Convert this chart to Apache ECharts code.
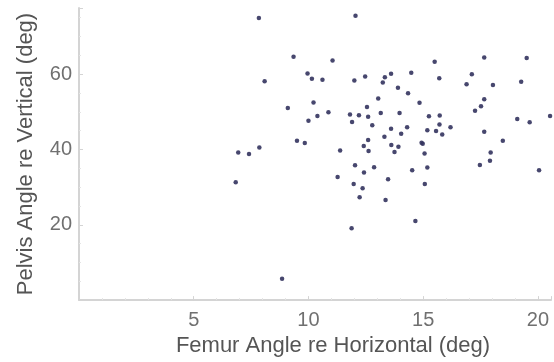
<!DOCTYPE html>
<html>
<head>
<meta charset="utf-8">
<script src="https://cdn.jsdelivr.net/npm/echarts@6/dist/echarts.min.js"></script>
<style>
  html, body { margin: 0; padding: 0; background: #fff; }
  #chart { width: 554px; height: 362px; }
</style>
</head>
<body>
<div id="chart"></div>
<script>
// femur angle (x) / pelvis angle (y)
var femur = [
  7.84, 8.09, 6.94, 7.41, 7.86, 6.83,
  12.05, 9.35, 11.05, 15.50, 17.66, 19.51, 9.96, 10.15, 10.61, 12.00,
  12.47, 13.33, 13.24, 13.60, 14.48, 15.70, 17.12, 16.89, 18.04, 19.27,
  13.90, 14.34, 13.04, 14.84, 10.22, 9.10, 12.55, 17.66, 17.52, 17.26,
  10.87, 10.39, 10.00, 11.81, 12.20, 12.60, 11.90, 13.15, 13.97, 15.25,
  15.72, 15.71, 16.19, 12.78, 13.60, 14.30, 14.04, 15.18, 15.56, 15.83,
  19.10, 19.64, 20.53, 17.66, 13.31, 12.60, 9.50, 9.84, 12.41, 12.62,
  11.38, 13.61, 13.92, 13.75, 14.93, 14.98, 15.06, 18.47, 17.94, 17.91,
  17.47, 20.05, 12.03, 12.42, 12.86, 14.52, 15.18, 11.27, 13.47, 11.97,
  12.36, 12.23, 13.36, 15.07, 11.88, 14.66, 8.85
];
var pelvis = [
  74.9, 58.1, 39.2, 38.8, 40.5, 31.3,
  75.5, 64.6, 63.6, 63.3, 64.4, 64.3, 60.2, 58.8, 58.5, 58.3,
  59.4, 59.2, 57.8, 60.1, 60.4, 58.9, 60.0, 57.3, 57.1, 58.0,
  56.4, 54.9, 53.5, 52.4, 52.5, 51.0, 51.3, 53.3, 51.5, 50.3,
  49.9, 48.9, 47.6, 49.3, 49.1, 48.7, 47.3, 49.7, 49.7, 48.8,
  49.0, 46.6, 45.9, 46.4, 45.5, 45.9, 44.2, 45.1, 44.9, 44.0,
  48.1, 47.2, 48.9, 44.7, 43.4, 42.5, 42.3, 41.7, 40.9, 39.6,
  39.7, 41.2, 40.7, 39.3, 41.8, 41.5, 38.9, 42.3, 39.2, 37.0,
  35.9, 34.5, 35.8, 33.9, 35.3, 34.5, 35.2, 32.7, 32.1, 30.8,
  29.7, 27.3, 26.6, 30.8, 19.1, 21.0, 5.7
];
var xTicks = [5, 10, 15, 20];
var yTicks = [20, 40, 60];

var points = [];
for (var i = 0; i < femur.length; i++) {
  points.push([femur[i], pelvis[i]]);
}

var axisGray = '#d4d4d4';

var option = {
  backgroundColor: '#ffffff',
  animation: false,
  grid: { left: 79, right: 0, top: 8, bottom: 58.5 },
  xAxis: {
    type: 'value',
    min: 0,
    max: 20.57,
    interval: 5,
    name: 'Femur Angle re Horizontal (deg)',
    nameLocation: 'middle',
    nameGap: 33,
    nameTextStyle: { fontFamily: 'Liberation Sans', fontSize: 22, color: '#555', padding: [0, 0, 0, 36] },
    axisLine: { lineStyle: { color: axisGray, width: 2 } },
    axisTick: { show: true, inside: true, length: 4, lineStyle: { color: axisGray } },
    minorTick: { show: true, splitNumber: 5, length: 2, lineStyle: { color: '#e4e4e4' } },
    splitLine: { show: false },
    axisLabel: {
      margin: 10,
      fontFamily: 'Liberation Sans',
      fontSize: 20,
      color: '#707070',
      formatter: function (v) { return xTicks.indexOf(v) >= 0 ? String(v) : ''; }
    }
  },
  yAxis: {
    type: 'value',
    min: 0,
    max: 77.56,
    interval: 20,
    name: 'Pelvis Angle re Vertical (deg)',
    nameLocation: 'middle',
    nameGap: 42,
    nameTextStyle: { fontFamily: 'Liberation Sans', fontSize: 22, color: '#555' },
    axisLine: { show: true, lineStyle: { color: axisGray, width: 2 } },
    axisTick: { show: true, inside: true, length: 4, lineStyle: { color: axisGray } },
    minorTick: { show: true, splitNumber: 4, length: 2, lineStyle: { color: '#e4e4e4' } },
    splitLine: { show: false },
    axisLabel: {
      margin: 7,
      fontFamily: 'Liberation Sans',
      fontSize: 20,
      color: '#707070',
      formatter: function (v) { return yTicks.indexOf(v) >= 0 ? String(v) : ''; }
    }
  },
  series: [{
    type: 'scatter',
    data: points,
    symbol: 'circle',
    symbolSize: 4.5,
    clip: false,
    itemStyle: { color: '#33335e', opacity: 0.9 }
  }]
};

var chart = echarts.init(document.getElementById('chart'));
chart.setOption(option);
</script>
</body>
</html>
